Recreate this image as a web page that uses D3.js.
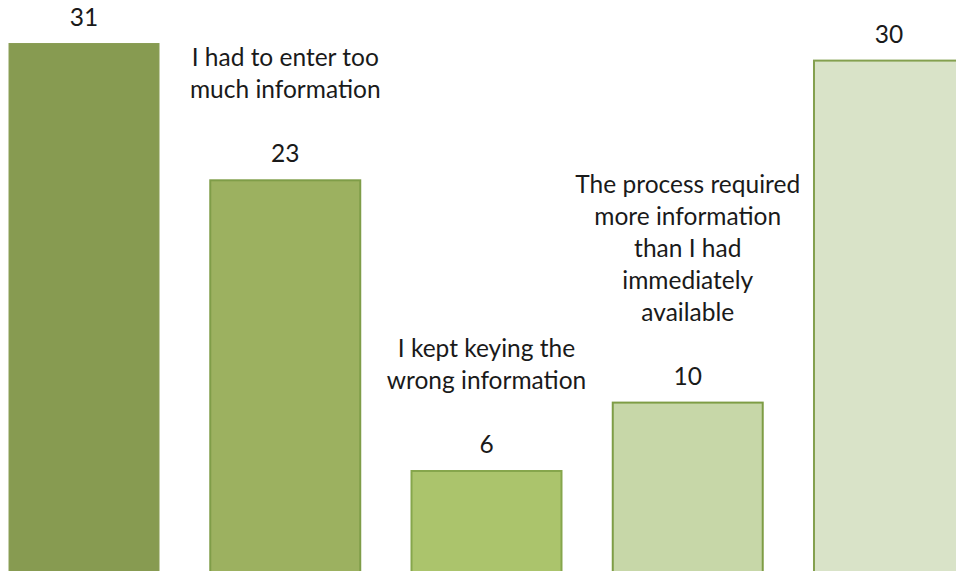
<!DOCTYPE html>
<html>
<head>
<meta charset="utf-8">
<script src="https://cdn.jsdelivr.net/npm/d3@7"></script>
<style>
  html, body { margin: 0; padding: 0; background: #ffffff; overflow: hidden; }
  svg { display: block; }
  text { font-family: Lato, "Open Sans", sans-serif; fill: #1a1a1a; }
</style>
</head>
<body>
<svg id="chart" width="956" height="571"></svg>
<script>
// Reasons given, one bar per reason; the outer two have no visible caption
const categories = ["", "I had to enter too\nmuch information", "I kept keying the\nwrong information",
  "The process required\nmore information\nthan I had\nimmediately\navailable", ""];
const counts = [31, 23, 6, 10, 30];
const fills = ["#879b51", "#9cb160", "#abc46c", "#c7d7a8", "#d9e3c8"];
const strokes = ["#8b9e56", "#7f9d48", "#86a64c", "#7e9d45", "#84a04f"];

const W = 956, H = 571;
const svg = d3.select("#chart");

const idx = d3.range(counts.length);
const x = d3.scaleBand()
  .domain(idx)
  .range([-16.6, 989.6])
  .paddingInner(0.2547)
  .paddingOuter(0.1273);

const y = d3.scaleLinear()
  .domain([0, 31])
  .range([573.6, 43.5]);

// Bars
svg.append("g").selectAll("rect")
  .data(idx)
  .join("rect")
  .attr("x", i => x(i))
  .attr("y", i => y(counts[i]))
  .attr("width", x.bandwidth())
  .attr("height", i => y(0) - y(counts[i]))
  .attr("fill", i => fills[i])
  .attr("stroke", i => strokes[i])
  .attr("stroke-width", i => i === 0 ? 1 : 2);

// Value labels with the category caption stacked above them
const lineH = 32;
const labels = svg.append("g").attr("font-size", 24.5).attr("text-anchor", "middle");
idx.forEach(i => {
  const cx = x(i) + x.bandwidth() / 2;
  const base = y(counts[i]) - 18;
  labels.append("text")
    .attr("x", cx)
    .attr("y", base)
    .text(counts[i]);
  const lines = categories[i] ? categories[i].split("\n") : [];
  lines.forEach((ln, k) => {
    labels.append("text")
      .attr("x", cx)
      .attr("y", base - 2 * lineH - (lines.length - 1 - k) * lineH)
      .text(ln);
  });
});
</script>
</body>
</html>
